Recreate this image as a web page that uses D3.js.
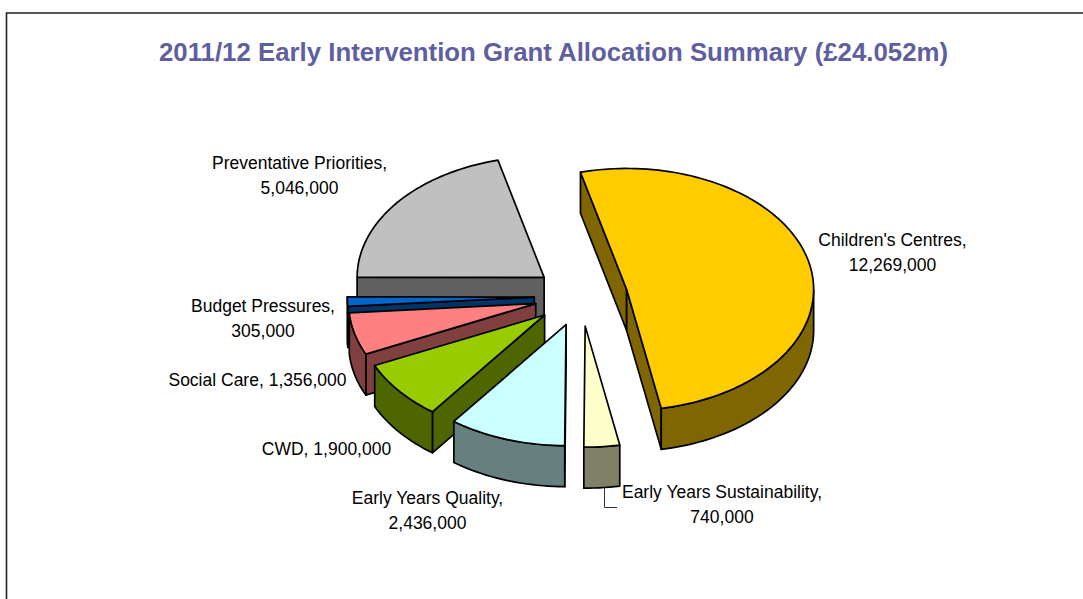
<!DOCTYPE html>
<html>
<head>
<meta charset="utf-8">
<script src="https://cdn.jsdelivr.net/npm/d3@7"></script>
<style>
  body { margin: 0; background: #fff; overflow: hidden; }
  text { font-family: "Liberation Sans", Arial, sans-serif; }
</style>
</head>
<body>
<div id="d3-container"></div>
<script>
// DATA (clockwise, starting from the first slice)
const categories = ["Children's Centres", "Early Years Sustainability", "Early Years Quality", "CWD", "Social Care", "Budget Pressures", "Preventative Priorities"];
const values = [12269000, 740000, 2436000, 1900000, 1356000, 305000, 5046000];
const topColors = ["#FFCC00", "#FFFFCC", "#CCFFFF", "#99CC00", "#FF8080", "#0066CC", "#C0C0C0"];
const wallColors = ["#806600", "#808066", "#668080", "#4D6600", "#804040", "#003366", "#606060"];
const titleText = "2011/12 Early Intervention Grant Allocation Summary (£24.052m)";

// CONSTANTS
const width = 1083,
  height = 599,
  centerX = 581,
  centerY = 296,
  radiusX = 187,
  radiusY = 121,
  depth = 41,
  explode = 0.25, // every slice pulled out by the same share of the radius
  firstAngle = -14.3 * Math.PI / 180;

// label centre and baselines, same order as categories
const labelLayout = [
  { x: 892.5, y: 246, oneLine: false },
  { x: 722, y: 498, oneLine: false },
  { x: 427.5, y: 504, oneLine: false },
  { x: 326.5, y: 455, oneLine: true },
  { x: 257.5, y: 386, oneLine: true },
  { x: 263, y: 312, oneLine: false },
  { x: 299.5, y: 169, oneLine: false }
];

// SCALES: unit pie coordinates to pixels
const xScale = d3.scaleLinear().domain([-1, 1]).range([centerX - radiusX, centerX + radiusX]);
const yScale = d3.scaleLinear().domain([-1, 1]).range([centerY + radiusY, centerY - radiusY]);

const pie = d3.pie().sort(null).startAngle(firstAngle).endAngle(firstAngle + 2 * Math.PI);
const slices = pie(values).map((d, i) => ({
  ...d,
  name: categories[i],
  top: topColors[i],
  wall: wallColors[i],
  label: labelLayout[i],
  mid: (d.startAngle + d.endAngle) / 2
}));

// point on a slice: r=0 is its apex, r=1 its rim
function project(s, angle, r, lower) {
  const ux = explode * Math.sin(s.mid) + r * Math.sin(angle);
  const uy = explode * Math.cos(s.mid) + r * Math.cos(angle);
  return [xScale(ux), yScale(uy) + (lower ? depth : 0)];
}

// rim angles between a and b
function rim(a, b) {
  const n = Math.max(2, Math.ceil(Math.abs(b - a) / 0.03));
  return d3.range(n + 1).map(k => a + (b - a) * k / n);
}

const line = d3.line();

const svg = d3.select("#d3-container")
  .append("svg")
  .attr("width", width)
  .attr("height", height);

// chart border, runs off the page on the right and at the bottom
svg.append("path")
  .attr("d", line([[6.5, height + 2], [6.5, 13], [width + 2, 13]]))
  .attr("fill", "none")
  .attr("stroke", "#222")
  .attr("stroke-width", 1.6);

svg.append("text")
  .attr("x", 553.5)
  .attr("y", 61)
  .attr("text-anchor", "middle")
  .attr("font-size", 25.8)
  .attr("font-weight", "bold")
  .attr("fill", "#5F5F9F")
  .text(titleText);

// back to front
const drawOrder = slices.slice().reverse();

const sliceG = svg.selectAll(".slice")
  .data(drawOrder)
  .join("g")
  .attr("class", "slice")
  .attr("stroke", "#000")
  .attr("stroke-width", 1.7)
  .attr("stroke-linejoin", "round");

sliceG.each(function(s) {
  const g = d3.select(this);

  // radial walls, only the ones turned towards the viewer
  if (Math.sin(s.startAngle) < 0) {
    g.append("path").attr("fill", s.wall).attr("d", line([
      project(s, 0, 0), project(s, s.startAngle, 1),
      project(s, s.startAngle, 1, true), project(s, 0, 0, true)
    ]) + "Z");
  }
  if (Math.sin(s.endAngle) > 0) {
    g.append("path").attr("fill", s.wall).attr("d", line([
      project(s, 0, 0), project(s, s.endAngle, 1),
      project(s, s.endAngle, 1, true), project(s, 0, 0, true)
    ]) + "Z");
  }

  // outer wall, front half of the rim only
  const from = Math.max(s.startAngle, Math.PI / 2);
  const to = Math.min(s.endAngle, 3 * Math.PI / 2);
  if (to > from) {
    const angles = rim(from, to);
    g.append("path").attr("fill", s.wall).attr("d", line(
      angles.map(a => project(s, a, 1)).concat(angles.slice().reverse().map(a => project(s, a, 1, true)))
    ) + "Z");
  }

  // top face
  g.append("path").attr("fill", s.top).attr("d", line(
    [project(s, 0, 0)].concat(rim(s.startAngle, s.endAngle).map(a => project(s, a, 1)))
  ) + "Z");
});

// leader line of the small slice
svg.append("path")
  .attr("d", line([[604.5, 487], [604.5, 507.5], [617, 507.5]]))
  .attr("fill", "none")
  .attr("stroke", "#333")
  .attr("stroke-width", 1);

// LABELS
const fmt = d3.format(",");
const labels = svg.selectAll(".label")
  .data(slices)
  .join("text")
  .attr("class", "label")
  .attr("text-anchor", "middle")
  .attr("font-size", 17.5)
  .attr("fill", "#000");

labels.each(function(s) {
  const t = d3.select(this);
  if (s.label.oneLine) {
    t.append("tspan").attr("x", s.label.x).attr("y", s.label.y).text(`${s.name}, ${fmt(s.value)}`);
  } else {
    t.append("tspan").attr("x", s.label.x).attr("y", s.label.y).text(`${s.name},`);
    t.append("tspan").attr("x", s.label.x).attr("y", s.label.y + 25).text(fmt(s.value));
  }
});
</script>
</body>
</html>
